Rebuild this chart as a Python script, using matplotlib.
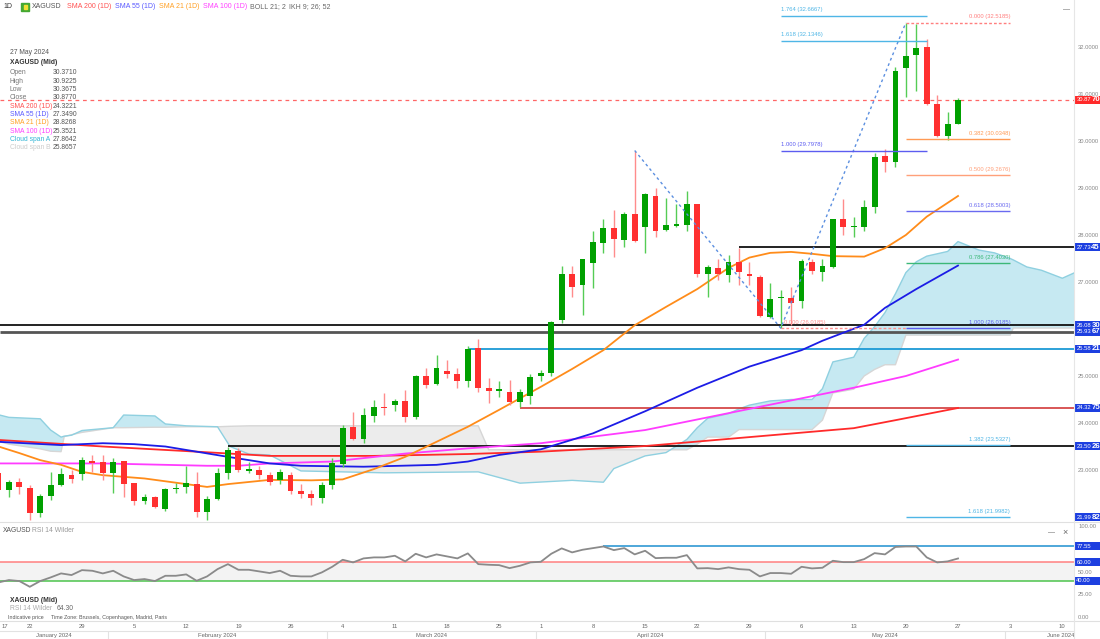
import matplotlib.pyplot as plt
import matplotlib.transforms as mtransforms
from matplotlib.patches import Rectangle
from matplotlib.lines import Line2D
import numpy as np
import pandas as pd

plt.rcParams['font.family'] = ['Liberation Sans', 'DejaVu Sans']

W, H = 1100, 639

# trading days on the chart (the feed has no bar for Good Friday)
days = pd.bdate_range("2024-01-17", "2024-05-27")
days = days[days != pd.Timestamp("2024-03-29")]
future_days = pd.bdate_range("2024-05-28", "2024-06-14")

opens = [22.93, 22.57, 22.75, 22.61, 22.08, 22.45, 22.68, 22.89, 22.91, 23.20,
         23.18, 22.93, 23.19, 22.72, 22.35, 22.43, 22.18, 22.59, 22.63, 22.70,
         22.11, 22.38, 22.94, 23.40, 22.98, 22.99, 22.89, 22.78, 22.90, 22.55,
         22.50, 22.40, 22.68, 23.13, 23.92, 23.65, 24.15, 24.35, 24.38, 24.47,
         24.13, 24.99, 24.82, 25.11, 25.04, 24.90, 25.59, 24.74, 24.69, 24.67,
         24.44, 24.57, 25.00, 25.07, 26.19, 27.18, 26.94, 27.40, 27.84, 28.14,
         27.89, 28.44, 28.16, 28.84, 28.11, 28.20, 28.21, 28.66, 27.17, 27.29,
         27.14, 27.42, 27.16, 27.11, 26.26, 26.65, 26.67, 26.60, 27.43, 27.22,
         27.31, 28.33, 28.16, 28.17, 28.59, 29.68, 29.56, 31.56, 31.83, 31.99,
         30.78, 30.11, 30.371]
highs = [23.00, 22.79, 22.84, 22.68, 22.50, 22.96, 23.04, 23.00, 23.28, 23.32,
         23.32, 23.26, 23.19, 22.73, 22.49, 22.45, 22.61, 22.73, 23.09, 22.96,
         22.45, 23.04, 23.50, 23.46, 23.18, 23.08, 22.96, 23.02, 22.95, 22.70,
         22.58, 22.75, 23.25, 23.96, 24.24, 24.31, 24.50, 24.64, 24.52, 24.70,
         25.03, 25.16, 25.45, 25.34, 25.16, 25.64, 25.78, 24.95, 24.90, 24.92,
         24.72, 25.05, 25.12, 26.18, 27.34, 27.34, 27.50, 28.09, 28.33, 28.53,
         28.50, 29.79, 28.90, 29.01, 28.79, 28.66, 28.94, 28.67, 27.36, 27.48,
         27.57, 27.73, 27.42, 27.14, 26.97, 26.82, 26.90, 27.50, 27.50, 27.50,
         28.35, 28.76, 28.39, 28.74, 29.74, 29.84, 31.58, 32.52, 32.50, 32.18,
         30.98, 30.62, 30.9225]
lows = [22.50, 22.43, 22.49, 21.94, 22.00, 22.36, 22.65, 22.72, 22.79, 22.95,
        22.79, 22.52, 22.42, 22.26, 22.28, 22.20, 22.13, 22.52, 22.52, 22.01,
        21.94, 22.36, 22.81, 22.96, 22.93, 22.80, 22.68, 22.70, 22.48, 22.40,
        22.25, 22.30, 22.60, 23.07, 23.64, 23.57, 24.03, 24.17, 24.25, 24.03,
        24.08, 24.74, 24.80, 24.95, 24.74, 24.76, 24.67, 24.42, 24.56, 24.38,
        24.33, 24.40, 24.90, 25.00, 26.13, 26.69, 26.30, 26.87, 27.62, 27.54,
        27.75, 27.85, 27.61, 27.95, 28.08, 28.17, 28.09, 27.11, 26.69, 27.04,
        26.99, 26.94, 26.94, 26.25, 26.23, 26.02, 26.09, 26.44, 27.17, 27.03,
        27.29, 28.00, 27.96, 28.09, 28.46, 29.33, 29.45, 30.94, 31.07, 30.76,
        30.08, 30.03, 30.3675]
closes = [22.57, 22.75, 22.63, 22.09, 22.45, 22.68, 22.91, 22.80, 23.21, 23.14,
          22.93, 23.18, 22.70, 22.35, 22.43, 22.22, 22.59, 22.62, 22.72, 22.11,
          22.38, 22.93, 23.43, 22.99, 23.02, 22.89, 22.75, 22.95, 22.55, 22.50,
          22.40, 22.68, 23.14, 23.90, 23.66, 24.17, 24.33, 24.31, 24.47, 24.13,
          25.01, 24.81, 25.18, 25.04, 24.90, 25.58, 24.74, 24.69, 24.70, 24.45,
          24.65, 24.97, 25.07, 26.14, 27.18, 26.90, 27.48, 27.86, 28.14, 27.91,
          28.44, 27.87, 28.87, 28.09, 28.21, 28.23, 28.67, 27.18, 27.31, 27.16,
          27.43, 27.22, 27.13, 26.28, 26.64, 26.67, 26.56, 27.45, 27.24, 27.33,
          28.33, 28.16, 28.19, 28.60, 29.67, 29.56, 31.49, 31.81, 31.97, 30.78,
          30.11, 30.36, 30.877]

# moving averages (bar index, value)
sma21_i = [0, 2, 4, 6, 8, 10, 14, 17, 20, 22, 26, 30, 33, 36, 39, 42, 45, 48, 52,
           55, 58, 61, 64, 67, 70, 72, 74, 76, 78, 80, 83, 85, 87, 89, 92]
sma21 = [23.50, 23.36, 23.21, 23.11, 22.96, 22.89, 22.82, 22.73, 22.64, 22.70, 22.79,
         22.78, 22.80, 23.02, 23.28, 23.60, 23.92, 24.28, 24.77, 25.15, 25.55, 26.08,
         26.47, 26.85, 27.30, 27.52, 27.62, 27.64, 27.60, 27.55, 27.54, 27.72, 28.00,
         28.39, 28.83]
sma55_i = [0, 6, 10, 13, 16, 19, 22, 26, 29, 35, 42, 45, 48, 52, 57, 62, 67, 72, 77,
           79, 83, 85, 88, 92]
sma55 = [23.60, 23.53, 23.57, 23.55, 23.50, 23.39, 23.28, 23.14, 23.09, 23.07, 23.11,
         23.18, 23.32, 23.44, 23.78, 24.25, 24.75, 25.20, 25.55, 25.75, 26.09, 26.45,
         26.85, 27.35]
sma100_i = [0, 10, 20, 23, 26, 32, 39, 45, 52, 62, 72, 82, 87, 92]
sma100 = [23.14, 23.14, 23.09, 23.09, 23.14, 23.18, 23.35, 23.46, 23.57, 23.85, 24.30,
          24.75, 25.00, 25.35]
sma200_i = [0, 10, 19, 26, 36, 45, 52, 62, 72, 82, 86, 92]
sma200 = [23.64, 23.50, 23.39, 23.30, 23.30, 23.34, 23.39, 23.51, 23.70, 23.89, 24.06,
          24.32]

# ichimoku cloud (shifted 26 bars ahead)
cloud_i = [0.1, 1, 4, 5, 6, 6.3, 7, 8, 11, 12, 15, 16, 18, 21, 22.2, 24, 26, 29, 37,
           46, 47, 50, 55, 58, 59, 62, 64, 66, 67, 68, 70, 71, 72, 74, 76, 78, 79, 80,
           82, 83, 84, 85, 86, 87, 88, 89, 91, 92, 94, 95.5, 97, 97.3, 98.6, 100, 102,
           103.2]
span_a = [24.17, 24.12, 24.09, 23.85, 23.70, 23.72, 23.74, 23.84, 23.90, 24.17, 24.15,
          23.98, 23.94, 23.92, 23.50, 23.34, 23.32, 22.98, 22.94, 22.96, 22.90, 22.72,
          22.78, 22.74, 23.03, 23.30, 23.37, 23.65, 23.90, 24.10, 24.20, 24.30, 24.38,
          24.47, 24.50, 24.50, 24.73, 25.30, 25.40, 25.80, 26.05, 26.35, 26.75, 27.20,
          27.43, 27.55, 27.65, 27.86, 27.68, 27.62, 27.50, 27.47, 27.32, 27.25, 27.08,
          27.20]
span_b = [23.60, 23.55, 23.45, 23.40, 23.39, 23.71, 23.75, 23.80, 23.90, 23.90, 23.91,
          23.91, 23.92, 23.92, 23.93, 23.94, 23.94, 23.94, 23.94, 23.94, 23.43, 23.43,
          23.43, 23.43, 23.43, 23.43, 23.43, 23.43, 23.55, 23.70, 23.70, 23.86, 23.86,
          23.86, 23.86, 23.86, 24.06, 24.64, 24.72, 25.00, 25.14, 25.24, 25.24, 25.87,
          25.87, 25.87, 25.87, 25.87, 25.87, 25.87, 25.87, 26.02, 26.02, 26.02, 26.02,
          26.02]

rsi = [38.0, 40.6, 39.5, 33.2, 39.5, 43.5, 47.9, 46.1, 51.5, 50.8,
       47.9, 50.8, 44.6, 40.6, 41.7, 39.5, 45.3, 45.3, 46.8, 39.8,
       44.6, 52.6, 58.1, 51.9, 51.9, 50.1, 48.3, 50.8, 45.3, 44.6,
       44.6, 49.0, 55.2, 62.9, 60.0, 64.4, 65.5, 65.5, 67.3, 61.1,
       69.5, 65.5, 68.8, 66.6, 64.4, 69.9, 58.1, 57.4, 57.0, 53.7,
       56.3, 60.0, 60.7, 69.5, 75.4, 71.0, 73.9, 75.7, 77.5, 73.5,
       75.7, 68.8, 72.8, 64.7, 65.1, 65.1, 68.0, 53.4, 53.7, 52.6,
       54.5, 52.6, 51.9, 44.6, 48.3, 48.3, 47.5, 55.2, 53.4, 54.1,
       61.8, 60.3, 60.3, 63.6, 70.2, 68.8, 77.0, 77.5, 77.5, 65.5,
       60.0, 61.1, 64.3]

# horizontal levels drawn on the chart
levels = [27.7345, 26.0830, 25.9367, 25.5821, 24.3275, 23.5026]
level_colors = ['#111111', '#111111', '#555555', '#1b9ad6', '#d23a3a', '#111111']
level_widths = [1.3, 1.3, 2.0, 1.3, 1.2, 1.3]
level_start = [71, None, None, 45, 50, 22]
last_price = 30.8770

# fibonacci tools
ext_ratio = ["1.764", "1.618", "1.000"]
ext_value = [32.6667, 32.1346, 29.7978]
ext_colors = ['#4fb6e6', '#4fb6e6', '#5c5cf0']
ret_ratio = ["0.000", "0.382", "0.500", "0.618", "0.786", "1.000", "1.382", "1.618"]
ret_value = [32.5185, 30.0348, 29.2676, 28.5003, 27.4030, 26.0185, 23.5327, 21.9982]
ret_colors = ['#ff7f7f', '#ff9a55', '#ffa07a', '#6a6af0', '#3cb878', '#5c5cf0',
              '#4fb6e6', '#4fb6e6']
swing_i = [61, 75, 87]
swing_p = [29.7978, 26.0185, 32.5185]

info_labels = ["Open", "High", "Low", "Close", "SMA 200 (1D)", "SMA 55 (1D)",
               "SMA 21 (1D)", "SMA 100 (1D)", "Cloud span A", "Cloud span B"]
info_values = ["30.3710", "30.9225", "30.3675", "30.8770", "24.3221", "27.3490",
               "28.8268", "25.3521", "27.8642", "25.8657"]
info_colors = ['#777777'] * 4 + ['#ff5050', '#5a5aff', '#ffa024', '#ff40ff',
                                 '#33b5d5', '#cccccc']

fig = plt.figure(figsize=(11, 6.39), dpi=100)


def px_axes(x0, y0, x1, y1):
    return fig.add_axes([x0 / W, 1 - y1 / H, (x1 - x0) / W, (y1 - y0) / H])


def ftext(x, y, s, **kw):
    kw.setdefault('fontsize', 4.9)
    kw.setdefault('va', 'center')
    return fig.text(x / W, 1 - y / H, s, **kw)


XL = (0.144, 103.12)
ax = px_axes(0, 0, 1074, 521)
ax_rsi = px_axes(0, 522, 1074, 621)
ax_dt = px_axes(0, 621, 1074, 639)

for a in (ax, ax_rsi, ax_dt):
    a.set_xlim(*XL)
    for s in a.spines.values():
        s.set_visible(False)
    a.set_xticks([])
ax.set_ylim(21.915, 33.0)
ax_rsi.set_ylim(-4.4, 104.4)
ax_dt.set_ylim(0, 1)
ax_dt.set_yticks([])


def scale_box(a, value, small, big, color, half_h):
    # label box on the right price scale, last digits drawn larger
    tr = mtransforms.blended_transform_factory(a.transAxes, a.transData)
    a.add_patch(Rectangle((1.0008, value - half_h), 0.0245, 2 * half_h, transform=tr,
                          fc=color, ec='none', clip_on=False, zorder=10))
    a.text(1.0022, value, small, transform=tr, color='white', fontsize=4.2,
           va='center', ha='left', clip_on=False, zorder=11)
    if big:
        a.annotate(big, xy=(1.0022, value), xycoords=tr, xytext=(15, 0),
                   textcoords='offset pixels', color='white', fontsize=5.6,
                   fontweight='bold', va='center', ha='left', annotation_clip=False,
                   zorder=11)


# ---- main panel ----
n = len(closes)
idx = np.arange(n)
o = np.array(opens)
c = np.array(closes)
up = c >= o

ca = np.array(span_a)
cb = np.array(span_b)
ax.fill_between(cloud_i, ca, cb, where=ca >= cb, interpolate=True, color='#c6e9f2', lw=0, zorder=1)
ax.fill_between(cloud_i, ca, cb, where=ca < cb, interpolate=True, color='#ececec', lw=0, zorder=1)
ax.plot(cloud_i, span_a, color='#8fd0e0', lw=1, zorder=1.2)
ax.plot(cloud_i, span_b, color='#d6d6d6', lw=1, zorder=1.1)

for v, col, lw, st in zip(levels, level_colors, level_widths, level_start):
    x0 = XL[0] if st is None else st
    ax.hlines(v, x0, XL[1], color=col, lw=lw, zorder=2)
ax.axhline(last_price, color='#ff6666', lw=0.9, ls=(0, (3, 3)), zorder=2)

ax.plot(sma200_i, sma200, color='#ff2a2a', lw=1.3, zorder=3)
ax.plot(sma100_i, sma100, color='#ff3cff', lw=1.3, zorder=3)
ax.plot(sma55_i, sma55, color='#1c1ce6', lw=1.3, zorder=3)
ax.plot(sma21_i, sma21, color='#ff8c1a', lw=1.3, zorder=3)

wick_cols = np.where(up, '#55cc55', '#ff8c8c')
body_cols = np.where(up, '#00a000', '#ff3030')
ax.vlines(idx, lows, highs, colors=wick_cols, lw=1, zorder=4)
body_h = np.maximum(np.abs(c - o), 0.025)
ax.bar(idx, body_h, bottom=np.minimum(o, c), width=0.56, color=body_cols, lw=0, zorder=5)

# fibonacci
ax.plot(swing_i, swing_p, color='#5b8fe0', lw=1, ls=(0, (2, 2.2)), zorder=6)
for r, v, col in zip(ext_ratio, ext_value, ext_colors):
    ax.hlines(v, 75, 89, color=col, lw=1, zorder=6)
    ax.text(75, v + 0.07, f"{r} ({v:.4f})", color=col, fontsize=4.2, va='bottom', ha='left', zorder=7)
ax.hlines(26.0185, 75, 87, color='#ff8f8f', lw=1, ls=(0, (2, 1.5)), zorder=6)
ax.text(75.3, 26.0185 + 0.07, "0.000 (26.0185)", color='#ff8f8f', fontsize=4.2, va='bottom', zorder=7)
for r, v, col in zip(ret_ratio, ret_value, ret_colors):
    ls = (0, (2, 1.5)) if r == "0.000" else '-'
    ax.hlines(v, 87, 97, color=col, lw=1, ls=ls, zorder=6)
    ax.text(97, v + 0.07, f"{r} ({v:.4f})", color=col, fontsize=4.2, va='bottom', ha='right', zorder=7)

# right price scale
ax.yaxis.tick_right()
ax.set_yticks(range(23, 33))
ax.yaxis.set_major_formatter('{x:.4f}')
ax.tick_params(axis='y', length=0, pad=3, labelsize=4.2, labelcolor='#888888')
for v in levels + [21.9982]:
    s = f"{v:.4f}"
    scale_box(ax, v, s[:-2], s[-2:], '#1d3fe0', 0.085)
s = f"{last_price:.4f}"
scale_box(ax, last_price, s[:-2], s[-2:], '#ff2a2a', 0.085)

# ---- RSI panel ----
ax_rsi.axhspan(40, 60, color='#f3f3f3', lw=0, zorder=1)
ax_rsi.axhline(60, color='#ff8080', lw=1.1, zorder=2)
ax_rsi.axhline(40, color='#4cc44c', lw=1.1, zorder=2)
ax_rsi.hlines(77.55, 58, XL[1], color='#1e90d0', lw=1.1, zorder=2)
ax_rsi.plot(idx, rsi, color='#8a8a8a', lw=1.3, zorder=3)
ax_rsi.yaxis.tick_right()
ax_rsi.set_yticks([0, 25, 50, 100])
ax_rsi.yaxis.set_major_formatter('{x:.2f}')
ax_rsi.tick_params(axis='y', length=0, pad=3, labelsize=4.2, labelcolor='#888888')
for v in [77.55, 60.0, 40.0]:
    scale_box(ax_rsi, v, f"{v:.2f}", "", '#1d3fe0', 4.4)

# ---- date axis ----
all_days = days.append(future_days)
pos = np.arange(len(all_days))
ax_dt.axhline(0.44, color='#e2e2e2', lw=0.8)
for p, d in zip(pos, all_days):
    if p == 0:
        ax_dt.text(XL[0] + 0.1, 0.72, str(d.day), fontsize=4.2, color='#666666', ha='left', va='center')
    elif d.weekday() == 0 and p < XL[1]:
        ax_dt.text(p, 0.72, str(d.day), fontsize=4.2, color='#666666', ha='center', va='center')
months = all_days.to_period('M')
for m in months.unique():
    sel = pos[months == m]
    lo, hi = max(sel[0] - 0.5, XL[0]), min(sel[-1] + 0.5, XL[1])
    if sel[0] > 0:
        ax_dt.vlines(sel[0] - 0.5, 0, 0.44, color='#e2e2e2', lw=0.8)
    ax_dt.text((lo + hi) / 2 + (2 if m.month == 6 else 0), 0.22, m.strftime('%B %Y'),
               fontsize=4.2, color='#666666', ha='center', va='center')

# frame lines
for y in (521.5, 621):
    fig.add_artist(Line2D([0, 1], [1 - y / H, 1 - y / H], color='#e0e0e0', lw=0.8))
fig.add_artist(Line2D([1074 / W, 1074 / W], [0, 1], color='#e6e6e6', lw=0.8))

# ---- texts ----
ftext(3, 7, "1D", color='#333333', fontsize=5.0)
fig.add_artist(Rectangle((21 / W, 1 - 11 / H), 8 / W, 8 / H, color='#44a832'))
fig.add_artist(Rectangle((23.5 / W, 1 - 9 / H), 3 / W, 4 / H, color='#f0e030'))
legend_items = ["XAGUSD", "SMA 200 (1D)", "SMA 55 (1D)", "SMA 21 (1D)", "SMA 100 (1D)",
                "BOLL 21; 2", "IKH 9; 26; 52"]
legend_x = [32, 67, 115, 159, 203, 250, 289]
legend_cols = ['#555555', '#ff5050', '#5a5aff', '#ffa024', '#ff40ff', '#666666', '#666666']
for s, x, col in zip(legend_items, legend_x, legend_cols):
    ftext(x, 7, s, color=col, fontsize=5.0)

ftext(10, 52, "27 May 2024", color='#555555')
ftext(10, 63, "XAGUSD (Mid)", color='#333333', fontweight='bold')
for k, (lab, val, col) in enumerate(zip(info_labels, info_values, info_colors)):
    y = 73 + 8.3 * k
    ftext(10, y, lab, color=col)
    ftext(77, y, val, color='#555555', ha='right')

ftext(1063, 10, "\u2014", color='#666666', fontsize=5)
ftext(3, 531, "XAGUSD", color='#555555')
ftext(32, 531, "RSI 14 Wilder", color='#999999')
ftext(10, 600, "XAGUSD (Mid)", color='#333333', fontweight='bold')
ftext(10, 609, "RSI 14 Wilder", color='#aaaaaa')
ftext(57, 609, "64.30", color='#666666')
ftext(8, 618, "Indicative price     Time Zone: Brussels, Copenhagen, Madrid, Paris",
      color='#555555', fontsize=3.8)
ftext(1048, 533, "\u2014", color='#666666', fontsize=5)
ftext(1062, 533, "\u00d7", color='#666666', fontsize=6.5)

fig.savefig('out.png', dpi=100)
